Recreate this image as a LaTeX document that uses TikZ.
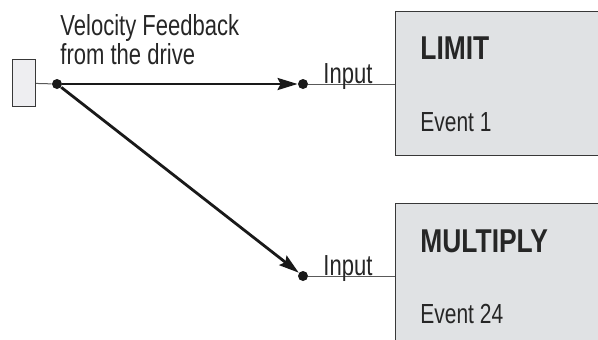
\documentclass[tikz,border=0pt]{standalone}
\usepackage{fontspec}
\setmainfont{Liberation Sans}[FakeStretch=0.76,BoldFeatures={FakeStretch=0.8}]
\usetikzlibrary{arrows.meta,positioning}
\definecolor{boxgray}{rgb}{0.88,0.885,0.895}
\definecolor{srcgray}{rgb}{0.935,0.935,0.945}
\definecolor{edgegray}{rgb}{0.22,0.22,0.22}
\definecolor{wiregray}{rgb}{0.35,0.35,0.35}
\tikzset{
  funcbox/.style={
    draw=edgegray,
    line width=0.6pt,
    fill=boxgray,
    anchor=north west,
    minimum width=110pt,
    inner sep=0pt
  },
  srcbox/.style={
    draw=edgegray,
    line width=0.6pt,
    fill=srcgray,
    anchor=north west,
    minimum width=11.5pt,
    minimum height=23.5pt,
    inner sep=0pt
  },
  dot/.style={
    circle,
    fill=black!90,
    inner sep=0pt,
    minimum size=5pt
  },
  lbl/.style={
    inner sep=0pt,
    text=black!85,
    font=\fontsize{14.5}{12}\selectfont
  },
  fname/.style={
    inner sep=0pt,
    anchor=base west,
    text=black!85,
    font=\fontsize{16.5}{18}\selectfont\bfseries
  },
  wire/.style={
    line width=0.5pt,
    wiregray
  },
  arrow/.style={
    -{Stealth[length=10pt,width=6pt,inset=1.5pt]},
    line width=1.4pt,
    black!90
  }
}

\begin{document}
\begin{tikzpicture}[x=0.5pt,y=-0.5pt]
\useasboundingbox (0,0) rectangle (598,339);
\clip (0,0) rectangle (598,339);
% function blocks
\node[funcbox,minimum height=72pt] (limit) at (395,11) {};
\node[funcbox,minimum height=75pt] (mult) at (395,203) {};
\node[fname] (limitname) at (420,59) {LIMIT};
\node[fname] (multname) at (420,252) {MULTIPLY};
\node[lbl,anchor=base west,font=\fontsize{13.8}{12}\selectfont] (limitev) at (420,131) {Event 1};
\node[lbl,anchor=base west,font=\fontsize{13.8}{12}\selectfont] (multev) at (420,323) {Event 24};
% source and connection points
\node[srcbox] (src) at (12,59) {};
\node[dot] (tap) at (57,84) {};
\node[dot] (in1) at (303,84) {};
\node[dot] (in2) at (303,276) {};
\draw[wire] (src) -- (tap);
\draw[wire] (in1) -- (limit.west |- in1);
\draw[wire] (in2) -- (mult.west |- in2);
\draw[arrow] (tap) -- (in1);
\draw[arrow] (tap) -- (in2);
% labels
\node[lbl,align=left,anchor=north west] (fb) at (60,14) {Velocity Feedback\\from the drive};
\node[lbl,anchor=base west] (in1lbl) at (323,83) {Input};
\node[lbl,anchor=base west] (in2lbl) at (323,275) {Input};
\end{tikzpicture}
\end{document}
